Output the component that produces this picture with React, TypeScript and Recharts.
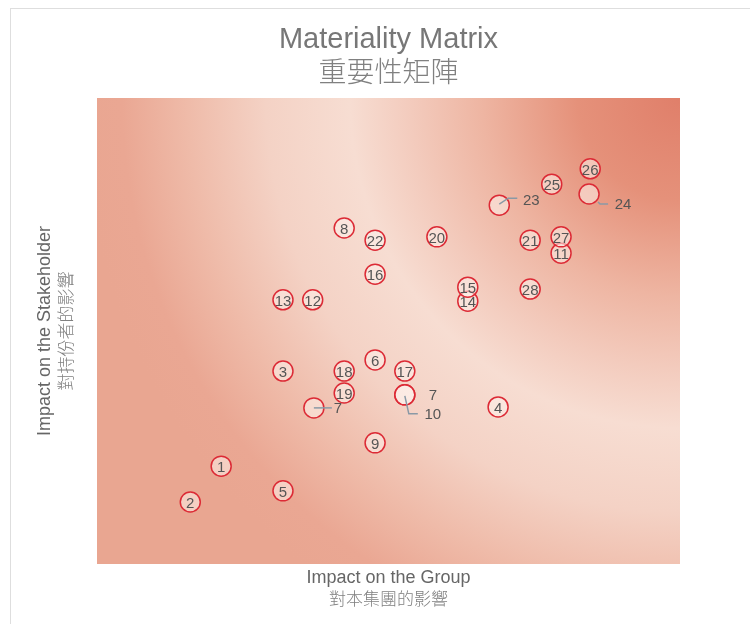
import React from "react";
import { ScatterChart, Scatter, XAxis, YAxis, ReferenceArea } from "recharts";

// issue number shown in each bubble (7 appears twice in the source picture)
const labels = ["1", "2", "3", "4", "5", "6", "7", "7", "8", "9", "10", "11", "12", "13", "14", "15", "16", "17", "18", "19", "20", "21", "22", "23", "24", "25", "26", "27", "28"];
// impact on the group (x), 0-100
const groupImpact = [21.3, 16.0, 31.9, 68.8, 31.9, 47.7, 37.2, 52.8, 42.4, 47.7, 52.8, 79.6, 37.0, 31.9, 63.6, 63.6, 47.7, 52.8, 42.4, 42.4, 58.3, 74.3, 47.7, 69.0, 84.4, 78.0, 84.6, 79.6, 74.3];
// impact on the stakeholder (y), 0-100
const stakeholderImpact = [21.0, 13.3, 41.4, 33.7, 15.7, 43.8, 33.5, 36.3, 72.1, 26.0, 36.3, 66.7, 56.7, 56.7, 56.4, 59.4, 62.2, 41.4, 41.4, 36.7, 70.2, 69.5, 69.5, 77.0, 79.4, 81.5, 84.8, 70.2, 59.0];

const data = labels.map((label, i) => ({ label, x: groupImpact[i], y: stakeholderImpact[i], idx: i }));

// labels pushed outside their bubble (index -> text offset and leader line)
const outside: Record<number, { dx: number; dy: number; line?: string }> = {
  6: { dx: 24, dy: 0, line: "0,0 18,0" },
  7: { dx: 28, dy: 0 },
  10: { dx: 28, dy: 19, line: "0,1 4,19 13,19" },
  23: { dx: 32, dy: -6, line: "0,-1 9,-7 18,-7" },
  24: { dx: 34, dy: 10, line: "9,8 11,10 19,10" },
};

const FONT = "'Liberation Sans', Arial, Helvetica, sans-serif";
const CJK = "'Noto Sans CJK TC', 'Noto Sans CJK SC', sans-serif";

const Bubble = (props: any) => {
  const { cx, cy, payload } = props;
  if (cx == null || cy == null) return null;
  const o = outside[payload.idx];
  return (
    <g>
      <circle cx={cx} cy={cy} r={10} fill="#fdf0eb" fillOpacity={0.55} stroke="#dc2a35" strokeWidth={1.5} />
      {o ? (
        <g>
          {o.line && (
            <polyline
              points={o.line
                .split(" ")
                .map((p) => {
                  const [a, b] = p.split(",").map(Number);
                  return `${cx + a},${cy + b}`;
                })
                .join(" ")}
              fill="none"
              stroke="#8a99a6"
              strokeWidth={1.5}
            />
          )}
          <text x={cx + o.dx} y={cy + o.dy} textAnchor="middle" dominantBaseline="central" fontSize={15} fill="#555" fontFamily={FONT}>
            {payload.label}
          </text>
        </g>
      ) : (
        <text x={cx} y={cy + 0.5} textAnchor="middle" dominantBaseline="central" fontSize={15} fill="#555" fontFamily={FONT}>
          {payload.label}
        </text>
      )}
    </g>
  );
};

export default function App() {
  return (
    <div style={{ position: "relative", width: 734, height: 608 }}>
      <div
        style={{
          position: "fixed",
          left: 10,
          top: 8,
          width: 800,
          height: 700,
          border: "1px solid #dedede",
          boxSizing: "border-box",
        }}
      />
      <svg width={734} height={600} style={{ position: "absolute", left: 0, top: 0 }}>
        <defs>
          <radialGradient id="matBg" gradientUnits="userSpaceOnUse" cx={672} cy={90} r={600}>
            <stop offset="0" stopColor="#e07f6a" />
            <stop offset="0.17" stopColor="#e5917a" />
            <stop offset="0.33" stopColor="#eeb5a2" />
            <stop offset="0.45" stopColor="#f3cbbd" />
            <stop offset="0.55" stopColor="#f7ddd2" />
            <stop offset="0.69" stopColor="#f4d2c5" />
            <stop offset="0.82" stopColor="#efbba9" />
            <stop offset="0.93" stopColor="#eaa793" />
            <stop offset="1" stopColor="#e9a691" />
          </radialGradient>
        </defs>
        <text x={380.5} y={30} textAnchor="middle" dominantBaseline="central" fontSize={29} fill="#777" fontFamily={FONT}>
          Materiality Matrix
        </text>
        <text x={380.5} y={62} textAnchor="middle" dominantBaseline="central" fontSize={28} fontWeight={300} fill="#808080" fontFamily={CJK}>
          重要性矩陣
        </text>
        <text x={380.5} y={569} textAnchor="middle" dominantBaseline="central" fontSize={18} fill="#666" fontFamily={FONT}>
          Impact on the Group
        </text>
        <text x={380.5} y={589} textAnchor="middle" dominantBaseline="central" fontSize={17} fontWeight={300} fill="#808080" fontFamily={CJK}>
          對本集團的影響
        </text>
        <text x={36} y={323} transform="rotate(-90 36 323)" textAnchor="middle" dominantBaseline="central" fontSize={18} fill="#666" fontFamily={FONT}>
          Impact on the Stakeholder
        </text>
        <text x={56} y={323} transform="rotate(-90 56 323)" textAnchor="middle" dominantBaseline="central" fontSize={17} fontWeight={300} fill="#808080" fontFamily={CJK}>
          對持份者的影響
        </text>
      </svg>
      <div style={{ position: "absolute", left: 0, top: 0 }}>
        <ScatterChart width={734} height={600} margin={{ top: 90, right: 62, bottom: 44, left: 89 }}>
          <XAxis type="number" dataKey="x" domain={[0, 100]} hide />
          <YAxis type="number" dataKey="y" domain={[0, 100]} hide />
          <ReferenceArea x1={0} x2={100} y1={0} y2={100} fill="url(#matBg)" fillOpacity={1} stroke="none" />
          <Scatter data={data} shape={Bubble} isAnimationActive={false} />
        </ScatterChart>
      </div>
    </div>
  );
}
